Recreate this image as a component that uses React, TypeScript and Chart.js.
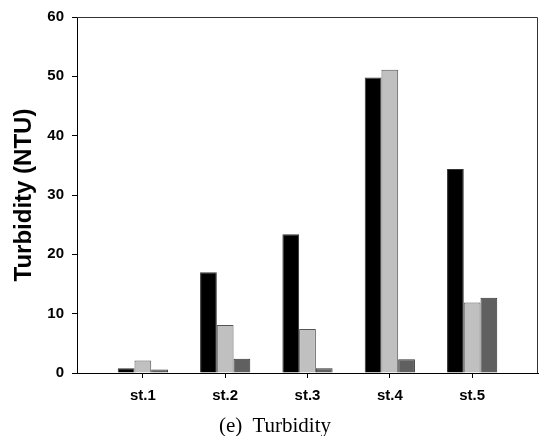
import React, { useEffect, useRef } from "react";
import { Chart, registerables } from "chart.js";

Chart.register(...registerables);

const stations = ["st.1", "st.2", "st.3", "st.4", "st.5"];
const seriesBlack = [0.8, 17.0, 23.4, 49.8, 34.4];
const seriesLight = [2.1, 8.1, 7.4, 51.1, 11.9];
const seriesDark = [0.6, 2.4, 0.8, 2.3, 12.7];
const yTicks = [0, 10, 20, 30, 40, 50, 60];

const frame = {
  id: "frame",
  afterDraw(chart: any) {
    const { ctx, chartArea } = chart;
    ctx.save();
    ctx.strokeStyle = "#333";
    ctx.lineWidth = 1;
    ctx.beginPath();
    ctx.moveTo(chartArea.left, chartArea.top + 0.5);
    ctx.lineTo(chartArea.right - 0.5, chartArea.top + 0.5);
    ctx.lineTo(chartArea.right - 0.5, chartArea.bottom);
    ctx.stroke();
    ctx.restore();
  },
};

export default function App() {
  const ref = useRef<HTMLCanvasElement | null>(null);
  useEffect(() => {
    if (!ref.current) return;
    const mk = (vals: number[]) => vals.map((v, i) => ({ x: i + 1, y: v }));
    const chart = new Chart(ref.current, {
      type: "bar",
      data: {
        datasets: [
          { data: mk(seriesBlack), backgroundColor: "#000", borderColor: "#333", borderWidth: 1 },
          { data: mk(seriesLight), backgroundColor: "#c0c0c0", borderColor: "#555", borderWidth: 1 },
          { data: mk(seriesDark), backgroundColor: "#606060", borderColor: "#333", borderWidth: 1 },
        ],
      },
      options: {
        animation: false,
        responsive: false,
        maintainAspectRatio: false,
        categoryPercentage: 0.61,
        barPercentage: 1,
        layout: { padding: { top: 17, right: 2, left: 0, bottom: 33 } },
        plugins: { legend: { display: false }, tooltip: { enabled: false } },
        scales: {
          x: {
            type: "linear",
            min: 0.2,
            max: 5.8,
            offset: false,
            afterBuildTicks: (s: any) => {
              s.ticks = stations.map((_, i) => ({ value: i + 1 }));
            },
            afterFit: (s: any) => {
              s.height = 30;
            },
            grid: { offset: false, drawOnChartArea: false, drawTicks: true, tickLength: 5, color: "#000" },
            border: { display: true, color: "#000", width: 1 },
            ticks: {
              autoSkip: false,
              maxRotation: 0,
              padding: 9,
              color: "#000",
              font: { family: "'Liberation Sans', Arial, sans-serif", size: 15, weight: "bold" },
              callback: (v: any) => stations[Math.round(Number(v)) - 1] ?? "",
            },
          },
          y: {
            min: 0,
            max: 60,
            afterBuildTicks: (s: any) => {
              s.ticks = yTicks.map((v) => ({ value: v }));
            },
            afterFit: (s: any) => {
              s.width = 77;
            },
            grid: { drawOnChartArea: false, drawTicks: true, tickLength: 5, color: "#000" },
            border: { display: true, color: "#000", width: 1 },
            ticks: {
              padding: 8,
              color: "#000",
              font: { family: "'Liberation Sans', Arial, sans-serif", size: 15, weight: "bold" },
            },
            title: {
              display: true,
              text: "Turbidity (NTU)",
              color: "#000",
              padding: { top: 10, bottom: 0 },
              font: { family: "'Liberation Sans', Arial, sans-serif", size: 24, weight: "bold" },
            },
          },
        },
      },
      plugins: [frame],
    } as any);
    return () => chart.destroy();
  }, []);

  return (
    <div style={{ position: "fixed", left: 0, top: 0, width: 540, height: 436, background: "#fff" }}>
      <canvas ref={ref} width={540} height={436} style={{ display: "block", width: 540, height: 436 }} />
      <div
        style={{
          position: "absolute",
          left: 0,
          width: 550,
          top: 413,
          textAlign: "center",
          fontFamily: "'Liberation Serif', 'Times New Roman', serif",
          fontSize: 21,
          lineHeight: "24px",
          color: "#000",
          whiteSpace: "pre",
        }}
      >
        {"(e)  Turbidity"}
      </div>
    </div>
  );
}
